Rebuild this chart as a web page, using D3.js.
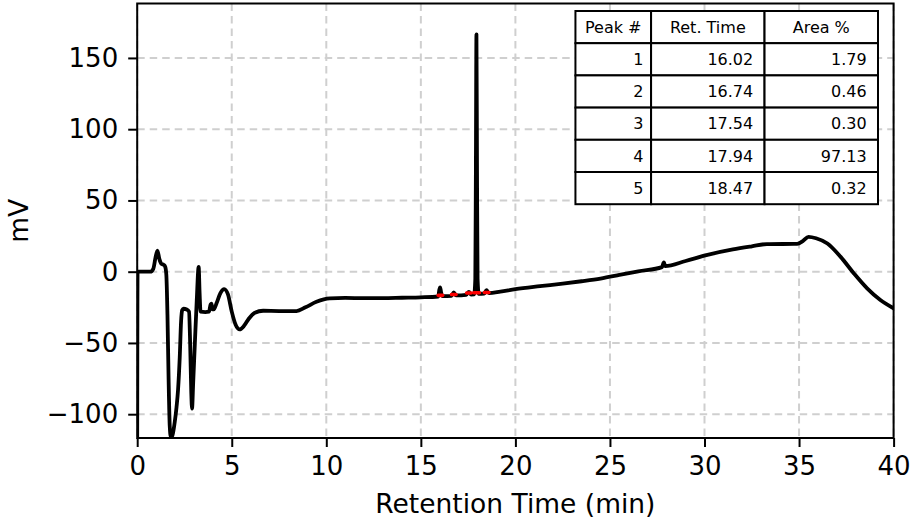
<!DOCTYPE html>
<html><head><meta charset="utf-8">
<script src="https://cdn.jsdelivr.net/npm/d3@7"></script>
<style>
body{margin:0;background:#fff}
svg{display:block}
text{font-family:"DejaVu Sans",sans-serif;fill:#000}
</style>
</head><body>
<svg id="c" width="915" height="529"></svg>
<script>
// ---- data ----
const time = [0, 0.02, 0.70, 0.85, 0.97, 1.07, 1.17, 1.28, 1.40, 1.48, 1.54, 1.60, 1.66, 1.72, 1.78, 1.86, 1.98, 2.08, 2.16, 2.25, 2.32, 2.38, 2.45, 2.62, 2.74, 2.80, 2.86, 2.90, 2.96, 3.05, 3.15, 3.25, 3.30, 3.35, 3.60, 3.80, 3.88, 3.93, 3.98, 4.05, 4.20, 4.40, 4.60, 4.80, 5.00, 5.20, 5.42, 5.65, 5.90, 6.22, 6.66, 7.5, 8.42, 8.90, 9.48, 10.19, 11, 12, 13, 14, 15, 15.92, 15.98, 16.02, 16.07, 16.14, 16.62, 16.74, 16.86, 17.40, 17.54, 17.66, 17.82, 17.88, 17.91, 17.94, 17.97, 18.00, 18.06, 18.35, 18.47, 18.60, 19.2, 20, 21.3, 22.5, 23.5, 24.5, 25.5, 26.5, 27.75, 27.85, 27.92, 29, 30.1, 31.5, 32.5, 33.3, 34.9, 35.2, 35.5, 35.9, 36.5, 37.2, 37.9, 38.6, 39.3, 40];
const signal = [-118, 0, 0, 2, 10, 14.7, 9, 5.5, 4.8, 3.5, -2, -30, -75, -108, -116, -115, -106, -95, -83, -60, -35, -27, -26, -26.5, -28, -50, -85, -96, -78, -50, -20, 3.4, -15, -28, -28.3, -28, -23, -22.5, -26.5, -26.5, -22, -15, -12.2, -16, -28, -37, -40.5, -38, -33, -28.8, -27.4, -27.6, -27.6, -25, -21.1, -18.7, -18.4, -18.6, -18.6, -18.3, -18.0, -17.4, -12.5, -11, -14.5, -17.2, -16.9, -14.5, -16.6, -16.2, -14.2, -16.0, -15.9, -5, 70, 166.6, 70, -5, -15.5, -15.3, -13, -15, -14, -12.3, -10.2, -8.4, -6.7, -4.8, -2.3, 0.3, 3.2, 6.5, 3.9, 7.5, 11.6, 15.6, 17.8, 19.4, 19.5, 21.5, 24.5, 23.5, 19.8, 10.4, -1.2, -11.7, -19.9, -25.7];

const peakStart = [15.92, 16.62, 17.42, 17.80, 18.36];
const peakEnd   = [16.15, 16.86, 17.66, 18.10, 18.60];
const peakBase  = [-16.6, -16.0, -14.9, -14.8, -14.6];

const xTicks = [0, 5, 10, 15, 20, 25, 30, 35, 40];
const yTicks = [-100, -50, 0, 50, 100, 150];

const tableHeader = ["Peak #", "Ret. Time", "Area %"];
const peakNums = ["1", "2", "3", "4", "5"];
const retTimes = ["16.02", "16.74", "17.54", "17.94", "18.47"];
const areaPct  = ["1.79", "0.46", "0.30", "97.13", "0.32"];

// ---- layout ----
const svg = d3.select("#c");
const L = 137.2, R = 893.6, T = 3.5, B = 438;
const x = d3.scaleLinear().domain([0, 40]).range([L, R]);
const y = d3.scaleLinear().domain([-116.7, 188.2]).range([B, T]);

svg.append("defs").append("clipPath").attr("id", "clip")
  .append("rect").attr("x", L).attr("y", T).attr("width", R - L).attr("height", B - T);

// grid
const grid = svg.append("g").attr("stroke", "#cfcfcf").attr("stroke-width", 2).attr("stroke-dasharray", "7.5,5");
grid.selectAll(".gx").data(xTicks).join("line")
  .attr("x1", d => x(d)).attr("x2", d => x(d)).attr("y1", T).attr("y2", B);
grid.selectAll(".gy").data(yTicks).join("line")
  .attr("y1", d => y(d)).attr("y2", d => y(d)).attr("x1", L).attr("x2", R);

// trace
const idx = d3.range(time.length);
const line = d3.line().x(i => x(time[i])).y(i => y(signal[i])).curve(d3.curveMonotoneX);
svg.append("path").attr("clip-path", "url(#clip)")
  .attr("d", line(idx)).attr("fill", "none").attr("stroke", "#000")
  .attr("stroke-width", 3.8).attr("stroke-linejoin", "round").attr("stroke-linecap", "round");

// peak integration markers (red)
svg.append("g").selectAll("line").data(d3.range(peakStart.length)).join("line")
  .attr("x1", i => x(peakStart[i])).attr("x2", i => x(peakEnd[i]))
  .attr("y1", i => y(peakBase[i])).attr("y2", i => y(peakBase[i]))
  .attr("stroke", "#ff0000").attr("stroke-width", 3.6).attr("stroke-linecap", "round");

// axes
const fs = 26;
const ax = svg.append("g").attr("transform", `translate(0,${B})`)
  .call(d3.axisBottom(x).tickValues(xTicks).tickSize(9).tickPadding(10).tickFormat(d3.format("d")));
const ay = svg.append("g").attr("transform", `translate(${L},0)`)
  .call(d3.axisLeft(y).tickValues(yTicks).tickSize(9).tickPadding(10).tickFormat(d3.format("d")));
[ax, ay].forEach(g => {
  g.select(".domain").remove();
  g.selectAll(".tick line").attr("stroke", "#000").attr("stroke-width", 2);
  g.selectAll(".tick text").attr("font-size", fs).attr("font-family", "DejaVu Sans").attr("fill", "#000");
});

// frame
svg.append("rect").attr("x", L).attr("y", T).attr("width", R - L).attr("height", B - T)
  .attr("fill", "none").attr("stroke", "#000").attr("stroke-width", 2);

// axis labels
svg.append("text").attr("x", (L + R) / 2).attr("y", 513).attr("text-anchor", "middle")
  .attr("font-size", 26.5).text("Retention Time (min)");
svg.append("text").attr("transform", `translate(28,${(T + B) / 2}) rotate(-90)`)
  .attr("text-anchor", "middle").attr("font-size", 26.5).text("mV");

// table
const axW = R - L;
const colW = [0.1, 0.15, 0.15].map(f => f * axW);
const tRight = 878, tTop = 11, rowH = 32.2;
const colX = [tRight - colW[0] - colW[1] - colW[2]];
colW.forEach((w, i) => colX.push(colX[i] + w));
const rows = [tableHeader].concat(peakNums.map((p, i) => [p, retTimes[i], areaPct[i]]));
const tg = svg.append("g");
rows.forEach((r, ri) => {
  r.forEach((txt, ci) => {
    const x0 = colX[ci], w = colW[ci], y0 = tTop + ri * rowH;
    tg.append("rect").attr("x", x0).attr("y", y0).attr("width", w).attr("height", rowH)
      .attr("fill", "#fff").attr("stroke", "#000").attr("stroke-width", 2);
    const t = tg.append("text").attr("font-size", 16).attr("y", y0 + rowH / 2).attr("dy", "0.36em");
    if (ri === 0) t.attr("x", x0 + w / 2).attr("text-anchor", "middle");
    else t.attr("x", x0 + w - 0.1 * w).attr("text-anchor", "end");
    t.text(txt);
  });
});
</script>
</body></html>
